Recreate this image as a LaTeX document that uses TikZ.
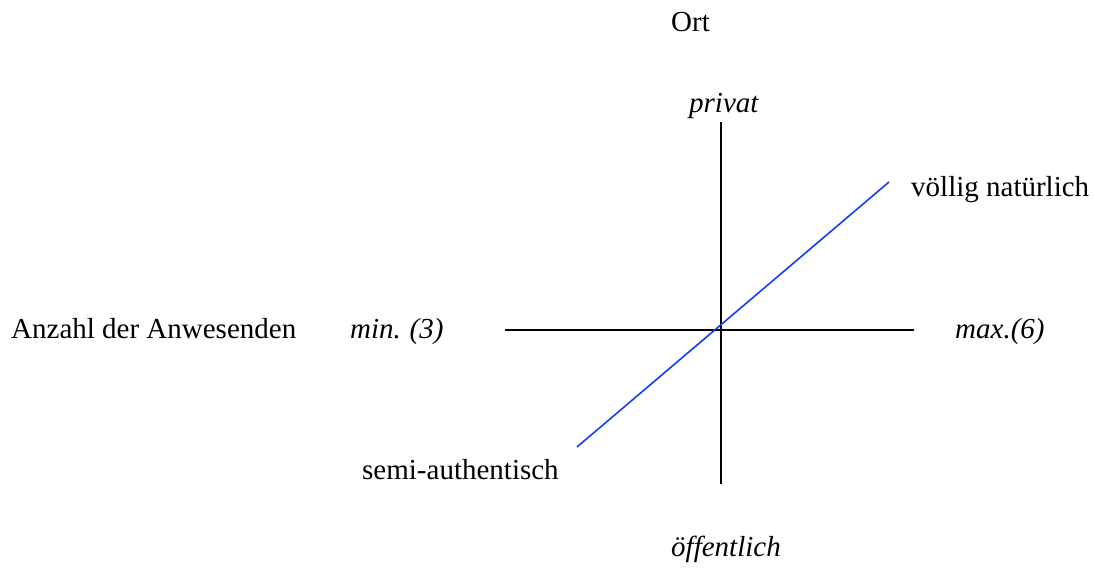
\documentclass[tikz,border=0pt]{standalone}
\usepackage{fontspec}
\setmainfont{Liberation Serif}
\begin{document}
\begin{tikzpicture}[x=1pt,y=-1pt,
  lbl/.style={inner sep=0pt,anchor=base west,font=\fontsize{29}{34}\selectfont},
  ilbl/.style={lbl,font=\fontsize{29}{34}\selectfont\itshape},
  axis/.style={line width=1.6pt,black},
  diag/.style={line width=1.6pt,color={rgb,255:red,20;green,60;blue,255}}]
\useasboundingbox (0,0) rectangle (1095,569);
\node[lbl] (ort) at (671,32) {Ort};
\node[ilbl] (privat) at (689,113) {privat};
\node[lbl] (voellig) at (911,197) {völlig natürlich};
\node[lbl] (anzahl) at (11,338) {Anzahl der Anwesenden};
\node[ilbl] (min) at (350,338) {min.\kern-1pt{} (3)};
\node[ilbl] (max) at (955,338) {max.(6)};
\node[lbl] (semi) at (362,479) {semi-authentisch};
\node[ilbl] (oeff) at (671,556) {öffentlich};
\coordinate (vtop) at (721,122);
\coordinate (vbot) at (721,484);
\coordinate (hl) at (505,330);
\coordinate (hr) at (914,330);
\coordinate (bl) at (577,447);
\coordinate (br) at (889,182);
\draw[axis] (vtop) -- (vbot);
\draw[axis] (hl) -- (hr);
\draw[diag] (bl) -- (br);
\end{tikzpicture}
\end{document}
